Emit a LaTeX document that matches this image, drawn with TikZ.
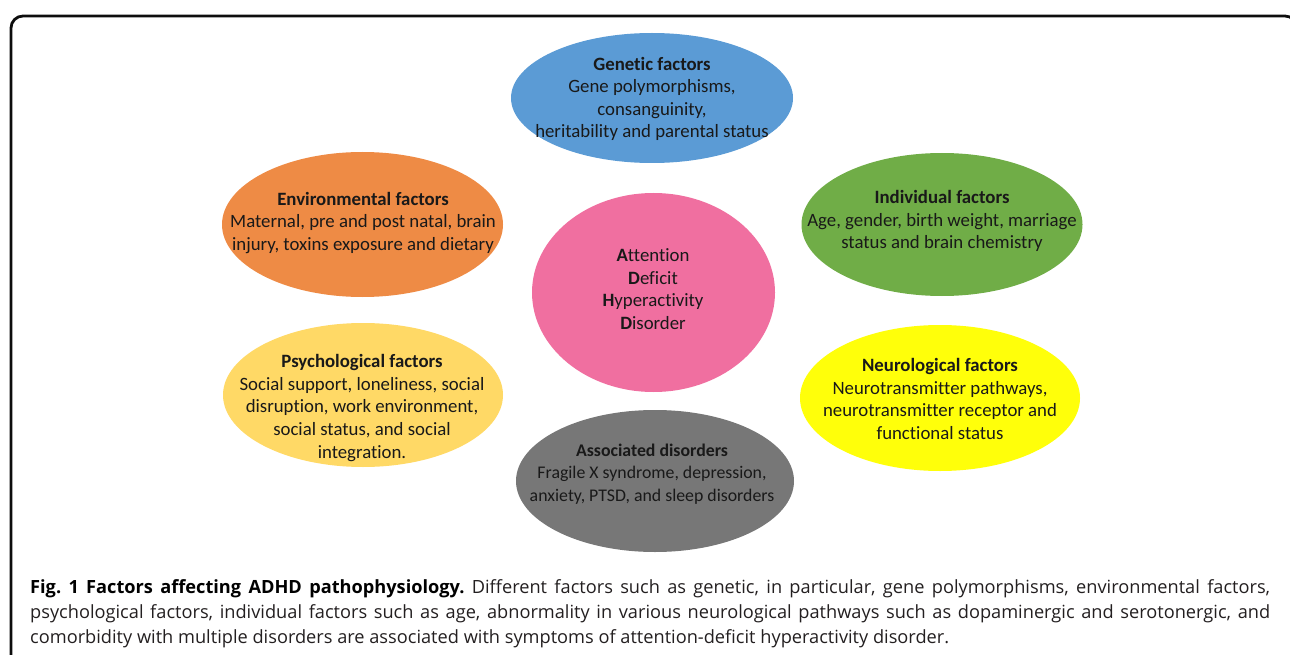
\documentclass[tikz,border=0pt]{standalone}
\usepackage{fontspec}
\setmainfont{Carlito}[Ligatures={NoCommon}]
\newfontfamily\capfont{Open Sans}
\usetikzlibrary{shapes.geometric}
\definecolor{genc}{HTML}{5B9BD5}
\definecolor{envc}{HTML}{EE8B45}
\definecolor{indc}{HTML}{70AD47}
\definecolor{adhdc}{HTML}{F06FA0}
\definecolor{psyc}{HTML}{FFD966}
\definecolor{neuc}{HTML}{FFFF0A}
\definecolor{assc}{HTML}{777777}
\definecolor{captxt}{HTML}{231F20}
\frenchspacing
\tikzset{
  blob/.style={ellipse, inner sep=0pt, draw=none},
  txt/.style={align=center, inner sep=0pt, text=black!90, font=\fontsize{18.8}{22.6}\selectfont},
  frame/.style={draw=black!95, line width=2.8pt, rounded corners=12pt},
  captext/.style={anchor=north west, inner sep=0pt, text width=1240pt, align=justify, text=captxt,
    font=\capfont\fontsize{18.2}{25}\selectfont}
}
\begin{document}
\begin{tikzpicture}[x=1pt,y=-1pt]
\useasboundingbox (0,0) rectangle (1290,655);
\clip (0,0) rectangle (1290,655);
\draw[frame] (11,16) rectangle (1297,680);

\node[blob, fill=genc, minimum width=282pt, minimum height=130pt] (gen) at (652,98) {};
\node[blob, fill=envc, minimum width=281pt, minimum height=145pt] (env) at (362.5,224.5) {};
\node[blob, fill=indc, minimum width=281pt, minimum height=143pt] (ind) at (942,224.5) {};
\node[blob, fill=adhdc, minimum width=243pt, minimum height=199pt] (adhd) at (653.5,292.5) {};
\node[blob, fill=psyc, minimum width=280pt, minimum height=144pt] (psy) at (363,395) {};
\node[blob, fill=neuc, minimum width=280pt, minimum height=146pt] (neu) at (940,398) {};
\node[blob, fill=assc, minimum width=278pt, minimum height=142pt] (ass) at (655,481) {};

\node[txt] (gent) at (652,99) {\textbf{Genetic factors}\\Gene polymorphisms,\\consanguinity,\\heritability and parental status};
\node[txt] (envt) at (363,223) {\textbf{Environmental factors}\\Maternal, pre and post natal, brain\\injury, toxins exposure and dietary};
\node[txt] (indt) at (942,221) {\textbf{Individual factors}\\Age, gender, birth weight, marriage\\status and brain chemistry};
\node[txt] (adhdt) at (653,289) {\textbf{A}ttention\\\textbf{D}eficit\\\textbf{H}yperactivity\\\textbf{D}isorder};
\node[txt] (psyt) at (362,408) {\textbf{Psychological factors}\\Social support, loneliness, social\\disruption, work environment,\\social status, and social\\integration.};
\node[txt] (neut) at (940,399) {\textbf{Neurological factors}\\Neurotransmitter pathways,\\neurotransmitter receptor and\\functional status};
\node[txt, font=\fontsize{17.8}{22.6}\selectfont] (asst) at (652,474) {\textbf{Associated disorders}\\Fragile X syndrome, depression,\\anxiety, PTSD, and sleep disorders};

\node[captext] (cap) at (30,579) {{\color{black}\textbf{Fig. 1 Factors affecting ADHD pathophysiology.}} Different factors such as genetic, in particular, gene polymorphisms, environmental factors,\linebreak psychological factors, individual factors such as age, abnormality in various neurological pathways such as dopaminergic and serotonergic, and\linebreak comorbidity with multiple disorders are associated with symptoms of attention-deficit hyperactivity disorder.};
\end{tikzpicture}
\end{document}
